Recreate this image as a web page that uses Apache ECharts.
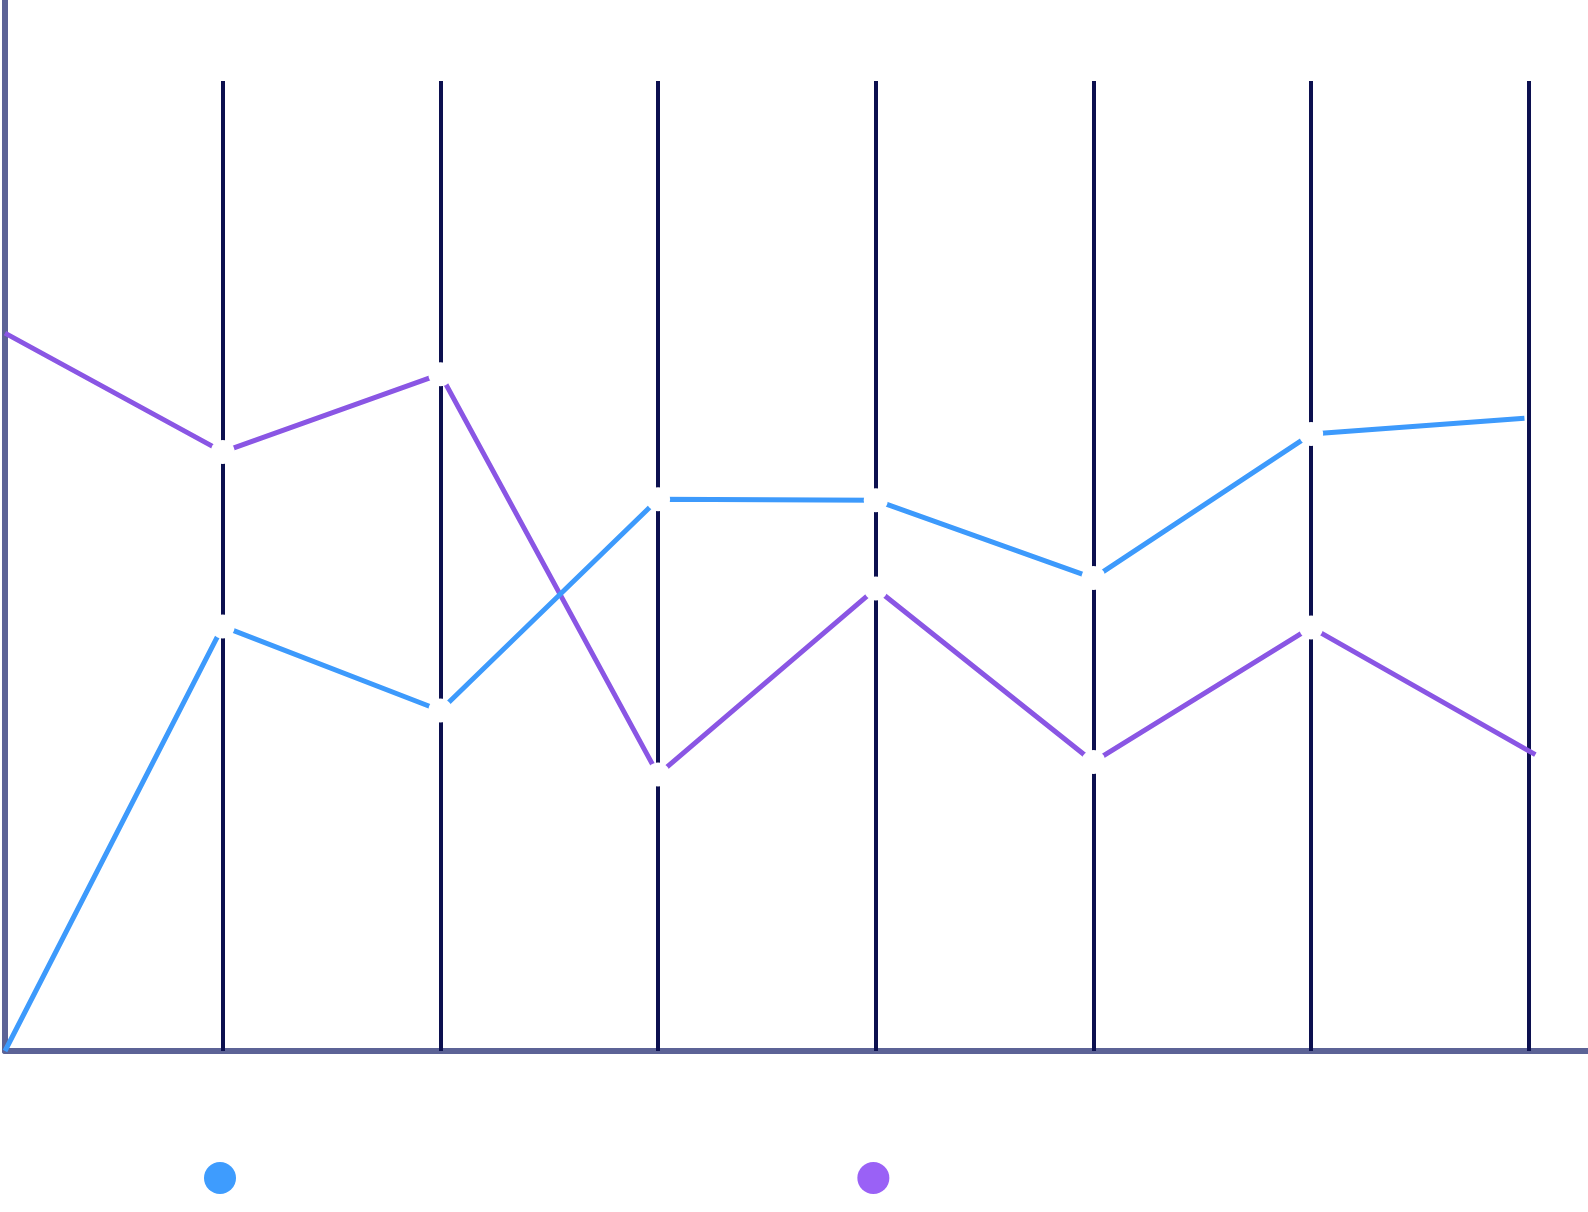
<!DOCTYPE html>
<html>
<head>
<meta charset="utf-8">
<script src="https://cdn.jsdelivr.net/npm/echarts@6/dist/echarts.min.js"></script>
<style>
html,body{margin:0;padding:0;background:#fff;overflow:hidden;width:1588px;height:1212px;}
#chart{width:1600px;height:1212px;}
</style>
</head>
<body>
<div id="chart"></div>
<script>
const seriesNames = ['Series A', 'Series B'];
const blueX = [0, 1, 2, 3, 4, 5, 6, 6.98];
const blueY = [0, 40.4, 32.4, 52.5, 52.4, 45.0, 58.7, 60.2];
const purpleX = [0, 1, 2, 3, 4, 5, 6, 7.03];
const purpleY = [68.3, 57.0, 64.4, 26.3, 44.0, 27.5, 40.3, 28.2];
const xMax = 7.327;
const yMax = 100;

function pts(xs, ys) {
  return xs.map((x, i) => {
    const item = { value: [x, ys[i]] };
    if (i === 0 || i === xs.length - 1) item.symbol = 'none';
    return item;
  });
}

const chart = echarts.init(document.getElementById('chart'), null, { renderer: 'canvas' });
chart.setOption({
  animation: false,
  backgroundColor: '#ffffff',
  grid: { left: 5, right: 0, top: 0, bottom: 161, containLabel: false },
  xAxis: {
    type: 'value', min: 0, max: xMax, interval: 1, z: 0,
    axisLine: { show: true, lineStyle: { color: '#5c6396', width: 6 } },
    axisTick: { show: true, inside: true, length: 970, lineStyle: { color: '#0c104f', width: 4 } },
    axisLabel: { show: false },
    splitLine: { show: false }
  },
  yAxis: {
    type: 'value', min: 0, max: yMax, z: 1,
    axisLine: { show: true, lineStyle: { color: '#5c6396', width: 6 } },
    axisTick: { show: false },
    axisLabel: { show: false },
    splitLine: { show: false }
  },
  legend: {
    left: 204, top: 1162, padding: 0, icon: 'circle',
    itemWidth: 32, itemHeight: 32, itemGap: 571,
    textStyle: { color: '#ffffff' },
    data: [
      { name: seriesNames[0], itemStyle: { color: '#3e9cfe', borderWidth: 0 } },
      { name: seriesNames[1], itemStyle: { color: '#9a61f6', borderWidth: 0 } }
    ]
  },
  series: [
    {
      name: seriesNames[0], type: 'line', data: pts(blueX, blueY),
      symbol: 'circle', symbolSize: 24, z: 3,
      itemStyle: { color: '#ffffff', borderWidth: 0 },
      lineStyle: { color: '#3d9afc', width: 5 },
      emphasis: { disabled: true }
    },
    {
      name: seriesNames[1], type: 'line', data: pts(purpleX, purpleY),
      symbol: 'circle', symbolSize: 24, z: 2,
      itemStyle: { color: '#ffffff', borderWidth: 0 },
      lineStyle: { color: '#8a56e4', width: 5 },
      emphasis: { disabled: true }
    }
  ]
});
</script>
</body>
</html>
